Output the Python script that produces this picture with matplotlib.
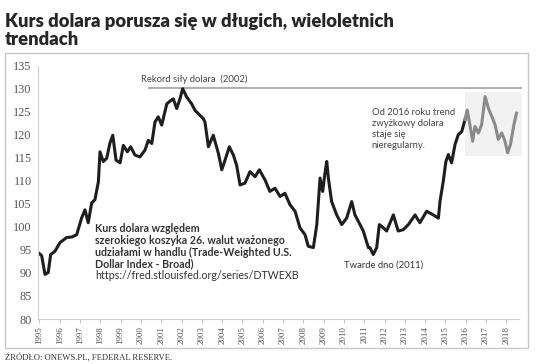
import matplotlib.pyplot as plt
from matplotlib.patches import Rectangle

# broad trade-weighted dollar index (fractional years)
years = [1995.0, 1995.11, 1995.27, 1995.43, 1995.55, 1995.76, 1996.01, 1996.34,
         1996.59, 1996.83, 1997.08, 1997.24, 1997.40, 1997.57, 1997.73, 1997.90,
         1997.98, 1998.14, 1998.31, 1998.47, 1998.61, 1998.77, 1998.97, 1999.13,
         1999.33, 1999.49, 1999.70, 1999.95, 2000.20, 2000.36, 2000.53, 2000.69,
         2000.85, 2001.02, 2001.27, 2001.43, 2001.59, 2001.76, 2001.92, 2002.05,
         2002.25, 2002.50, 2002.66, 2002.82, 2003.07, 2003.15, 2003.32, 2003.56,
         2003.81, 2003.98, 2004.14, 2004.35, 2004.55, 2004.71, 2004.88, 2005.12,
         2005.37, 2005.62, 2005.83, 2006.11, 2006.35, 2006.60, 2006.85, 2007.09,
         2007.34, 2007.59, 2007.83, 2008.08, 2008.24, 2008.49, 2008.66, 2008.82,
         2008.95, 2009.06, 2009.15, 2009.23, 2009.39, 2009.64, 2009.89, 2010.13,
         2010.38, 2010.54, 2010.79, 2010.95, 2011.20, 2011.28, 2011.44, 2011.61,
         2011.74, 2011.94, 2012.10, 2012.43, 2012.67, 2012.92, 2013.17, 2013.50,
         2013.74, 2014.07, 2014.40, 2014.65, 2014.73, 2014.89, 2015.02, 2015.14,
         2015.30, 2015.47, 2015.63, 2015.80, 2015.96]
values = [94.2, 93.7, 89.7, 90.1, 94.0, 94.7, 96.6, 97.7,
          97.8, 98.3, 102.0, 103.7, 100.9, 105.2, 105.9, 109.8,
          116.3, 114.2, 114.9, 118.2, 119.9, 114.5, 113.9, 117.7,
          116.3, 117.4, 115.6, 115.2, 116.7, 118.8, 118.1, 122.8,
          123.9, 122.1, 126.7, 127.3, 127.8, 125.7, 127.8, 130.0,
          128.2, 126.7, 125.3, 124.6, 123.5, 122.8, 117.4, 119.9,
          116.0, 112.4, 114.5, 117.4, 115.6, 113.4, 109.1, 109.5,
          112.0, 110.9, 112.4, 110.2, 107.7, 108.4, 106.6, 107.3,
          104.8, 103.4, 99.8, 98.3, 95.8, 95.5, 100.5, 110.6,
          107.7, 111.6, 114.2, 110.6, 105.5, 102.6, 100.5, 101.9,
          105.5, 102.6, 100.5, 99.1, 95.5, 95.5, 94.0, 95.5,
          100.5, 99.8, 99.1, 102.6, 99.1, 99.4, 100.5, 102.6,
          100.9, 103.4, 102.6, 101.9, 105.6, 109.9, 114.2, 115.7,
          113.9, 117.9, 120.0, 120.7, 123.3]

# part after 2016 drawn in grey
years_late = [2015.96, 2016.07, 2016.20, 2016.34, 2016.45, 2016.62, 2016.78,
              2016.95, 2017.11, 2017.28, 2017.44, 2017.60, 2017.77, 2017.93,
              2018.06, 2018.20, 2018.37, 2018.50]
values_late = [123.3, 125.4, 122.2, 118.6, 121.8, 120.4, 122.2,
               128.3, 125.8, 124.0, 122.2, 119.0, 120.4, 118.6,
               116.1, 117.9, 122.2, 124.7]

year_ticks = list(range(1995, 2019))
value_ticks = list(range(80, 136, 5))
record_value = 130.2

note_lines = ['Kurs dolara względem', 'szerokiego koszyka 26. walut ważonego',
              'udziałami w handlu (Trade-Weighted U.S.', 'Dollar Index - Broad)',
              'https://fred.stlouisfed.org/series/DTWEXB']
trend_lines = ['Od 2016 roku trend', 'zwyżkowy dolara', 'staje się', 'nieregularny.']

fig = plt.figure(figsize=(5.36, 3.64), dpi=100)

# light frame around the chart area
fig.patches.append(Rectangle((0.0093, 0.044), 0.976, 0.811, transform=fig.transFigure,
                             facecolor='none', edgecolor='#c8c8c8', lw=1))

fig.text(0.0093, 0.925, 'Kurs dolara porusza się w długich, wieloletnich',
         fontsize=13.2, fontweight='heavy', family='Lato', color='#262626')
fig.text(0.0093, 0.876, 'trendach',
         fontsize=13.2, fontweight='heavy', family='Lato', color='#262626')

ax = fig.add_axes([0.0718, 0.1236, 0.8957, 0.6959])

ax.add_patch(Rectangle((2015.94, 115.3), 2.83, 13.9, facecolor='#f2f2f2',
                       edgecolor='none', zorder=0, clip_on=False))
ax.hlines(record_value, 2000.36, 2018.75, color='#b0b0b0', lw=1.5, clip_on=False)

ax.plot(years, values, color='#1e1e1e', lw=2.2)
ax.plot(years_late, values_late, color='#8a8a8a', lw=2.2)

ax.set_xlim(1994.95, 2018.6)
ax.set_ylim(80, 135)
ax.set_xticks(year_ticks)
ax.set_xticklabels([str(y) for y in year_ticks], rotation=90,
                   family='Liberation Serif', fontsize=6.5, color='#555555')
ax.set_yticks(value_ticks)
ax.set_yticklabels([str(v) for v in value_ticks],
                   family='Liberation Serif', fontsize=8.8, color='#555555')
ax.tick_params(axis='y', length=0, pad=5)
ax.tick_params(axis='x', length=3, color='#c8c8c8', pad=2)
for s in ['top', 'right']:
    ax.spines[s].set_visible(False)
for s in ['left', 'bottom']:
    ax.spines[s].set_color('#d0d0d0')

ax.text(2002.6, 132.1, 'Rekord siły dolara  (2002)', ha='center', va='center',
        family='Lato', fontsize=6.8, color='#444444')
ax.text(2011.95, 91.8, 'Twarde dno (2011)', ha='center', va='center',
        family='Lato', fontsize=6.8, color='#333333')

# one text per line so the spacing follows the picture
for i, line in enumerate(trend_lines):
    ax.text(2011.36, 124.9 - i * 2.43, line, ha='left', va='center',
            family='Lato', fontsize=6.8, color='#444444')
for i, line in enumerate(note_lines):
    ax.text(1997.73, 99.6 - i * 2.55, line, ha='left', va='center', family='Lato',
            fontweight='bold' if i < 4 else 'normal', fontsize=7.7, color='#333333')

fig.text(0.0093, 0.019, 'ŹRÓDŁO: ONEWS.PL, FEDERAL RESERVE.', family='Liberation Serif',
         fontsize=6.2, color='#333333', va='center')

fig.savefig('out.png', dpi=100)
